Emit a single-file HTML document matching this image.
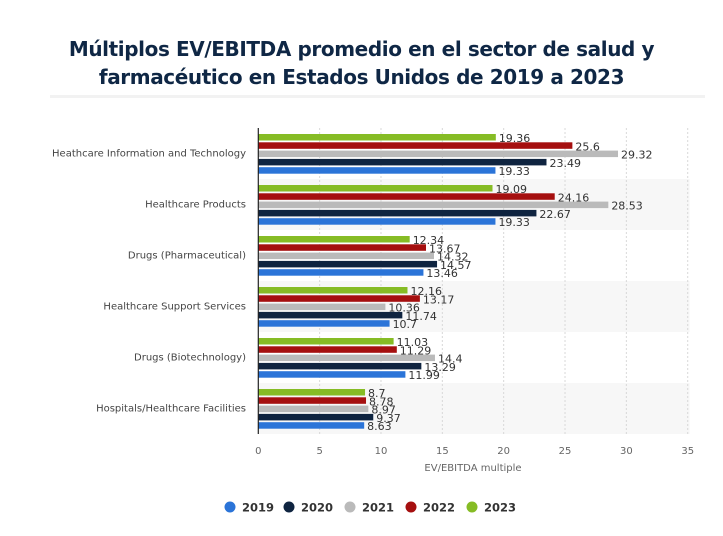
<!DOCTYPE html>
<html><head><meta charset="utf-8"><style>
body{margin:0;background:#fff;width:723px;height:536px;overflow:hidden;font-family:"Liberation Sans","DejaVu Sans",sans-serif}
h1{position:absolute;left:0;width:723px;top:35px;margin:0;text-align:center;font-size:20px;line-height:28px;font-weight:bold;color:#0f2745;font-family:"DejaVu Sans","Liberation Sans",sans-serif;letter-spacing:-0.4px}
</style></head><body>
<h1>Múltiplos EV/EBITDA promedio en el sector de salud y<br>farmacéutico en Estados Unidos de 2019 a 2023</h1>
<div style="position:absolute;left:50px;top:95px;width:655px;height:3px;background:#f2f2f2"></div>
<svg id="chart" width="723" height="536" style="position:absolute;left:0;top:0" font-family="DejaVu Sans, Liberation Sans, sans-serif"></svg>
<script>
const categories=["Heathcare Information and Technology","Healthcare Products","Drugs (Pharmaceutical)","Healthcare Support Services","Drugs (Biotechnology)","Hospitals/Healthcare Facilities"];
const years=["2023","2022","2021","2020","2019"];
const colors=["#86bc25","#a50f0f","#bababa","#0f2440","#2b74d8"];
const s2023=[19.36,19.09,12.34,12.16,11.03,8.7];
const s2022=[25.6,24.16,13.67,13.17,11.29,8.78];
const s2021=[29.32,28.53,14.32,10.36,14.4,8.97];
const s2020=[23.49,22.67,14.57,11.74,13.29,9.37];
const s2019=[19.33,19.33,13.46,10.7,11.99,8.63];
const ticks=[0,5,10,15,20,25,30,35];
const series=[s2023,s2022,s2021,s2020,s2019];
const svg=document.getElementById('chart');
const NS='http://www.w3.org/2000/svg';
const x0=258.3,pxu=(687.7-258.3)/35,top0=128,gh=51,bot=top0+gh*categories.length;
const X=v=>x0+v*pxu;
function mk(t,a){const e=document.createElementNS(NS,t);for(const k in a)e.setAttribute(k,a[k]);svg.appendChild(e);return e;}
categories.forEach((c,i)=>{
 if(i%2==1){const b=mk('rect',{x:x0,y:top0+i*gh,width:X(35)-x0+2,height:gh,fill:'#f7f7f7'});
 
 }
});
ticks.forEach(t=>{
 if(t>0){const l=mk('line',{x1:X(t),x2:X(t),y1:top0,y2:bot,stroke:'#d8d8d8','stroke-dasharray':'2,2'});
 
 }
 const tx=mk('text',{x:X(t),y:bot+20,'text-anchor':'middle','font-size':10,fill:'#666'});tx.textContent=t;
 
 
});
categories.forEach((c,i)=>{
 const lb=mk('text',{x:246,y:top0+i*gh+gh/2+3,'text-anchor':'end','font-size':10,fill:'#444'});lb.textContent=c;
 
 
 series.forEach((s,j)=>{
  const y=top0+i*gh+6+j*8.3;
  const r=mk('rect',{x:x0,y:y,width:X(s[i])-x0,height:6.5,fill:colors[j]});
  
  
  const v=mk('text',{x:X(s[i])+3,y:y+8,'font-size':11,fill:'#333'});v.textContent=s[i];
  
  
 });
});
const ax=mk('line',{x1:x0,x2:x0,y1:top0,y2:bot,stroke:'#222','stroke-width':1.2});


const xt=mk('text',{x:X(17.5),y:bot+37,'text-anchor':'middle','font-size':10,fill:'#666'});xt.textContent='EV/EBITDA multiple';


const lx=[230,289,350,411,472];
[4,3,2,1,0].forEach((j,k)=>{
 const g=mk('g',{});
 
 
 const c=document.createElementNS(NS,'circle');c.setAttribute('cx',lx[k]);c.setAttribute('cy',507);c.setAttribute('r',5.5);c.setAttribute('fill',colors[j]);g.appendChild(c);
 const t=document.createElementNS(NS,'text');t.setAttribute('x',lx[k]+12);t.setAttribute('y',511.5);t.setAttribute('font-size',11.5);t.setAttribute('font-weight','bold');t.setAttribute('fill','#333');t.textContent=years[j];g.appendChild(t);
});
</script>
</body></html>
